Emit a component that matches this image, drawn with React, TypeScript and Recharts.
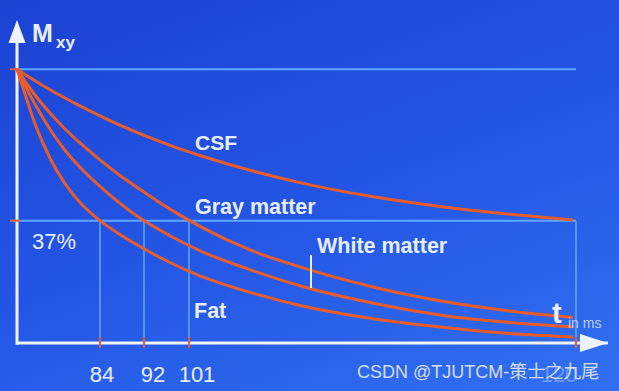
import React from 'react';
import { LineChart, Line, XAxis, YAxis, ReferenceLine, ReferenceDot } from 'recharts';

// time position along the (schematic) t axis
const tPos = [0, 8, 18, 33, 48, 63, 83, 103, 126, 153, 183, 233, 283, 358, 433, 493, 556];
// transverse magnetisation Mxy (relative units, 100 = start)
const csf = [100, 98.1, 95.8, 92.5, 89.5, 86.6, 83.0, 79.6, 76.0, 72.2, 68.5, 63.1, 58.6, 53.3, 49.4, 47.0, 44.9];
const grayMatter = [100, 95.7, 90.6, 84.0, 78.2, 73.1, 66.9, 61.2, 55.4, 48.9, 42.6, 34.0, 27.8, 20.3, 14.8, 11.7, 9.3];
const whiteMatter = [100, 94.1, 87.2, 78.1, 70.4, 64.2, 57.2, 51.0, 44.9, 39.2, 33.7, 26.8, 20.9, 14.4, 9.7, 7.5, 5.9];
const fat = [100, 91.0, 80.1, 67.5, 58.2, 51.3, 44.7, 39.6, 34.6, 29.4, 24.5, 18.5, 13.7, 8.8, 5.5, 3.5, 2.2];

const tickPos = [83, 127, 172, 559];
const tickLabels = ['84', '92', '101', '120'];
const REF_LEVEL = 44.7; // the "37%" level
const TOP_LEVEL = 100;
const X_MAX = 591;
const Y_MAX = 118;

const data = tPos.map((t, i) => ({
  t,
  csf: csf[i],
  gray: grayMatter[i],
  white: whiteMatter[i],
  fat: fat[i],
}));

const ORANGE = '#e85c2c';
const GUIDE = '#5fa8ff';
const AXIS = '#eef3ff';
const TEXT = '#e8eeff';
const FONT = '"Liberation Sans", Arial, Helvetica, sans-serif';
const labelDx = [2, 9, 8, -17];

const Tick = (props: any) => {
  const { x, y, payload } = props;
  const i = tickPos.indexOf(payload.value);
  return (
    <g>
      <line x1={x} x2={x} y1={y - 14} y2={y - 3} stroke={ORANGE} strokeWidth={2} />
      <text
        x={x + (labelDx[i] ?? 0)}
        y={y + 31}
        textAnchor="middle"
        fill={TEXT}
        fillOpacity={i === 3 ? 0.35 : 1}
        fontSize={22}
        fontFamily={FONT}
      >
        {tickLabels[i]}
      </text>
    </g>
  );
};

const XArrow = (p: any) => (
  <polygon points={`${p.cx},${p.cy} ${p.cx - 28},${p.cy - 9} ${p.cx - 28},${p.cy + 9}`} fill={AXIS} />
);
const YArrow = (p: any) => (
  <polygon points={`${p.cx},${p.cy} ${p.cx - 8.5},${p.cy + 23} ${p.cx + 8.5},${p.cy + 23}`} fill={AXIS} />
);

export default function App() {
  return (
    <div
      style={{
        position: 'fixed',
        left: 0,
        top: 0,
        width: 619,
        height: 391,
        background: 'linear-gradient(160deg, #1c42d2 0%, #2355e4 50%, #3170f0 100%)',
        overflow: 'hidden',
      }}
    >
      <LineChart width={619} height={391} data={data} margin={{ top: 20, right: 11, bottom: 18, left: 17 }}>
        <XAxis
          dataKey="t"
          type="number"
          domain={[0, X_MAX]}
          ticks={tickPos}
          tick={<Tick />}
          tickLine={false}
          axisLine={{ stroke: AXIS, strokeWidth: 3 }}
          height={30}
          interval={0}
        />
        <YAxis type="number" domain={[0, Y_MAX]} width={0} tick={false} tickLine={false} axisLine={false} />
        <ReferenceLine
          segment={[{ x: 0, y: TOP_LEVEL }, { x: tickPos[3], y: TOP_LEVEL }]}
          stroke={GUIDE}
          strokeWidth={2}
          ifOverflow="visible"
        />
        <ReferenceLine
          segment={[{ x: -7, y: REF_LEVEL }, { x: tickPos[3], y: REF_LEVEL }]}
          stroke={GUIDE}
          strokeWidth={2}
          ifOverflow="visible"
        />
        {tickPos.map((p) => (
          <ReferenceLine
            key={p}
            segment={[{ x: p, y: 0 }, { x: p, y: REF_LEVEL }]}
            stroke={GUIDE}
            strokeWidth={1.5}
            ifOverflow="visible"
          />
        ))}
        <ReferenceLine
          segment={[{ x: 0, y: -0.6 }, { x: 0, y: Y_MAX - 4 }]}
          stroke={AXIS}
          strokeWidth={3}
          ifOverflow="visible"
        />
        <ReferenceLine
          segment={[{ x: -7, y: REF_LEVEL }, { x: 3, y: REF_LEVEL }]}
          stroke={ORANGE}
          strokeWidth={2}
          ifOverflow="visible"
        />
        <ReferenceLine
          segment={[{ x: -7, y: TOP_LEVEL }, { x: 3, y: TOP_LEVEL }]}
          stroke={ORANGE}
          strokeWidth={2}
          ifOverflow="visible"
        />
        <Line dataKey="csf" type="monotone" stroke={ORANGE} strokeWidth={3} dot={false} isAnimationActive={false} />
        <Line dataKey="gray" type="monotone" stroke={ORANGE} strokeWidth={3} dot={false} isAnimationActive={false} />
        <Line dataKey="white" type="monotone" stroke={ORANGE} strokeWidth={3} dot={false} isAnimationActive={false} />
        <Line dataKey="fat" type="monotone" stroke={ORANGE} strokeWidth={3} dot={false} isAnimationActive={false} />
        <ReferenceDot x={X_MAX} y={0} r={0} ifOverflow="visible" shape={XArrow} />
        <ReferenceDot x={0} y={Y_MAX} r={0} ifOverflow="visible" shape={YArrow} />
      </LineChart>
      <svg width={619} height={391} style={{ position: 'absolute', left: 0, top: 0, pointerEvents: 'none' }}>
        <g fontFamily={FONT} fill={TEXT}>
          <text x={32} y={42} fontSize={25} fontWeight="bold">M</text>
          <text x={56} y={48} fontSize={17} fontWeight="bold">xy</text>
          <text x={195} y={150} fontSize={21} fontWeight="bold">CSF</text>
          <text x={195} y={214} fontSize={21.5} fontWeight="bold">Gray matter</text>
          <text x={317} y={253} fontSize={21.5} fontWeight="bold">White matter</text>
          <text x={194} y={318} fontSize={21.5} fontWeight="bold">Fat</text>
          <text x={32} y={249} fontSize={22}>37%</text>
          <text x={552} y={323} fontSize={29} fontWeight="bold">t</text>
          <text x={568} y={328} fontSize={14} fill="rgba(235,240,255,0.75)">in ms</text>
        </g>
        <line x1={311} x2={311} y1={255} y2={288} stroke={TEXT} strokeWidth={2} />
        <text
          x={357}
          y={378}
          fontSize={18}
          fontFamily={'"Liberation Sans", Arial, "Noto Sans CJK SC", sans-serif'}
          fill="rgba(228,232,240,0.92)"
        >
          CSDN @TJUTCM-策士之九尾
        </text>
      </svg>
    </div>
  );
}
